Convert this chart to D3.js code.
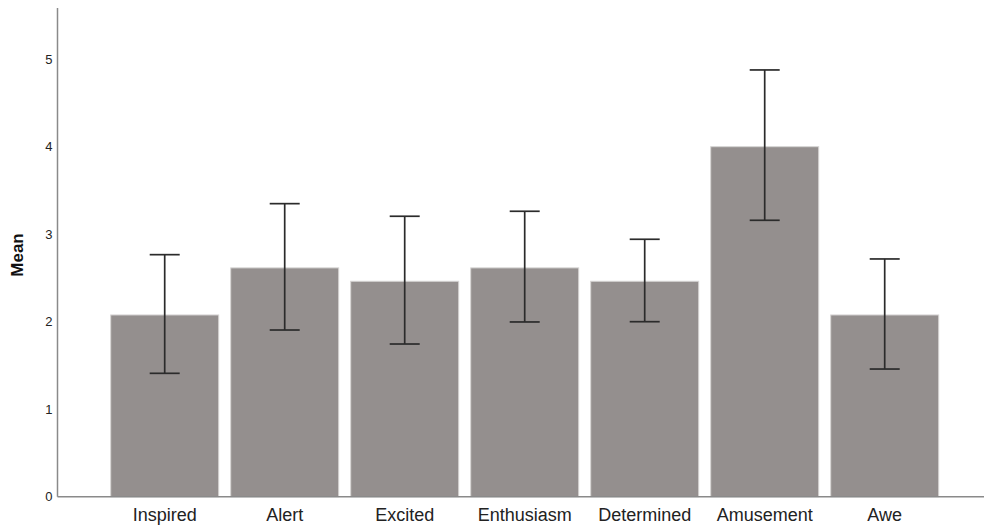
<!DOCTYPE html>
<html>
<head>
<meta charset="utf-8">
<script src="https://cdn.jsdelivr.net/npm/d3@7/dist/d3.min.js"></script>
<style>
  html, body { margin: 0; padding: 0; background: #fff; }
  svg { display: block; }
  text { font-family: "Liberation Sans", Arial, sans-serif; }
</style>
</head>
<body>
<svg id="chart" width="984" height="532"></svg>
<script>
// Mean rating per emotion, with 95% CI bounds
const categories = ["Inspired", "Alert", "Excited", "Enthusiasm", "Determined", "Amusement", "Awe"];
const means      = [2.077, 2.615, 2.462, 2.615, 2.462, 4.000, 2.077];
const ciLow      = [1.41, 1.905, 1.745, 1.997, 2.0, 3.159, 1.459];
const ciHigh     = [2.766, 3.349, 3.205, 3.262, 2.942, 4.877, 2.717];
const yTicks     = [0, 1, 2, 3, 4, 5];
const yLabel     = "Mean";

const W = 984, H = 532;
const axisX = 57.5, baseY = 496.7, topY = 8;

const svg = d3.select("#chart");

const y = d3.scaleLinear().domain([0, 5.585]).range([baseY, topY]);
const x = d3.scaleBand()
  .domain(categories)
  .range([104.7, 944.7])
  .paddingInner(0.1)
  .paddingOuter(0.05);

const rows = categories.map((c, i) => ({ c, m: means[i], lo: ciLow[i], hi: ciHigh[i] }));

// bars
svg.append("g").selectAll("rect")
  .data(rows)
  .join("rect")
  .attr("x", d => x(d.c))
  .attr("y", d => y(d.m))
  .attr("width", x.bandwidth())
  .attr("height", d => baseY - y(d.m))
  .attr("fill", "#948f8e")
  .attr("stroke", "#d6d4d3")
  .attr("stroke-width", 1);

// axis lines
svg.append("line")
  .attr("x1", axisX).attr("x2", axisX)
  .attr("y1", topY).attr("y2", baseY)
  .attr("stroke", "#8a8a8a").attr("stroke-width", 1.5);
svg.append("line")
  .attr("x1", axisX).attr("x2", W)
  .attr("y1", baseY).attr("y2", baseY)
  .attr("stroke", "#8a8a8a").attr("stroke-width", 1.5);

// error bars
const err = svg.append("g")
  .attr("stroke", "#2b2b2b")
  .attr("stroke-width", 1.7)
  .attr("fill", "none");
const capHalf = 15;
rows.forEach(d => {
  const cx = x(d.c) + x.bandwidth() / 2;
  err.append("line").attr("x1", cx).attr("x2", cx).attr("y1", y(d.hi)).attr("y2", y(d.lo));
  err.append("line").attr("x1", cx - capHalf).attr("x2", cx + capHalf).attr("y1", y(d.hi)).attr("y2", y(d.hi));
  err.append("line").attr("x1", cx - capHalf).attr("x2", cx + capHalf).attr("y1", y(d.lo)).attr("y2", y(d.lo));
});

// y tick labels
const yAxis = svg.append("g")
  .attr("transform", `translate(${axisX - 5},0)`)
  .call(d3.axisLeft(y).tickValues(yTicks).tickSize(0).tickPadding(0).tickFormat(d3.format("d")));
yAxis.select(".domain").remove();
yAxis.selectAll("text")
  .attr("font-size", 13)
  .attr("fill", "#222")
  .style("font-family", '"Liberation Sans", Arial, sans-serif');

// x labels
const xAxis = svg.append("g")
  .attr("transform", `translate(0,${baseY})`)
  .call(d3.axisBottom(x).tickSize(0).tickPadding(12));
xAxis.select(".domain").remove();
xAxis.selectAll("text")
  .attr("font-size", 18)
  .attr("fill", "#222")
  .style("font-family", '"Liberation Sans", Arial, sans-serif');

// y axis title
svg.append("text")
  .attr("transform", `translate(23,255) rotate(-90)`)
  .attr("text-anchor", "middle")
  .attr("font-size", 17)
  .attr("font-weight", "bold")
  .attr("fill", "#111")
  .text(yLabel);
</script>
</body>
</html>
